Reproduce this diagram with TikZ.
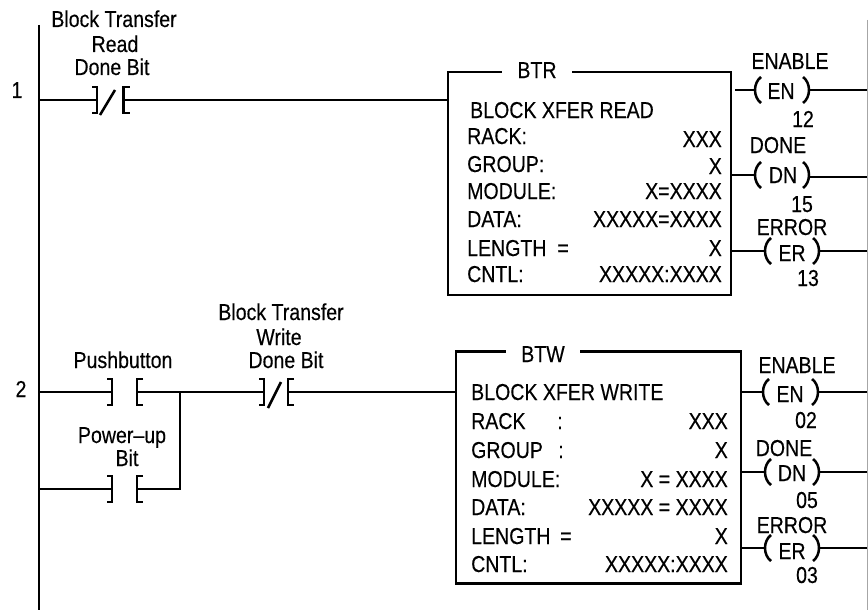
\documentclass[tikz,border=0pt]{standalone}
\usepackage{fontspec}
\setmainfont[FakeStretch=0.85,FakeBold=0.3]{Liberation Sans}
\newcommand{\contactno}[1]{%
  \draw[heavy] (#1l) ++(-5,-13) -- ++(5,0) -- ++(0,26) -- ++(-5,0);
  \draw[heavy] (#1r) ++(6,-13) -- ++(-6,0) -- ++(0,26) -- ++(6,0);
}
\newcommand{\coil}[4]{% name, left x, right x, y
  \coordinate (#1l) at (#2,#4);
  \coordinate (#1r) at (#3,#4);
  \draw[heavy] (#1l) ++(5,-13) .. controls +(-8,6) and +(-8,-6) .. ++(0,26);
  \draw[heavy] (#1r) ++(-5,-13) .. controls +(8,6) and +(8,-6) .. ++(0,26);
}
\tikzset{
  wire/.style={line width=2.1pt,line cap=butt,line join=miter,black},
  heavy/.style={wire,line width=2.5pt},
  txt/.style={anchor=base,inner sep=0pt,font=\fontsize{23}{23}\selectfont},
  txtl/.style={txt,anchor=base west},
  txtr/.style={txt,anchor=base east},
  fb/.style={wire,draw,rectangle,inner sep=0pt,minimum width=#1},
  ttl/.style={txt,fill=white,minimum width=#1}
}
\begin{document}
\begin{tikzpicture}[x=1pt,y=-1pt]
\useasboundingbox (0,0) rectangle (868,610);
\fill[white] (0,0) rectangle (868,610);
\coordinate (edgeT) at (867.5,20);
\coordinate (edgeB) at (867.5,610);
\draw[gray!70,line width=1pt] (edgeT) -- (edgeB);

% rail
\coordinate (railT) at (39,25);
\coordinate (railB) at (39,610);
\draw[wire] (railT) -- (railB);
\coordinate (r1) at (39,100);
\coordinate (r2) at (39,392);
\coordinate (r3) at (39,489);

% rung labels
\node[txt] (n1) at (17,98) {1};
\node[txt] (n2) at (21,397) {2};

% rung 1 contact
\node[txt] (a1) at (114,27) {Block Transfer};
\node[txt] (a2) at (115,52) {Read};
\node[txt] (a3) at (112,75) {Done Bit};
\coordinate (c1l) at (97,100);
\coordinate (c1r) at (123.5,100);
\coordinate (s1a) at (100,115);
\coordinate (s1b) at (115,90);
\contactno{c1}
\draw[heavy] (s1a) -- (s1b);

% BTR
\node[fb=283pt,minimum height=223pt] (btr) at (589.5,183.5) {};
\node[ttl=70pt] (btrt) at (537,78) {BTR};
\draw[wire] (r1) -- (c1l);
\draw[wire] (c1r) -- (btr.west |- c1r);

\node[txtl] (b0) at (470,118) {BLOCK XFER READ};
\node[txtl] (b1) at (467,144) {RACK:};
\node[txtl] (b2) at (467,172) {GROUP:};
\node[txtl] (b3) at (467,199) {MODULE:};
\node[txtl] (b4) at (467,227) {DATA:};
\node[txtl] (b5) at (467,256) {LENGTH};
\node[txt] (b5e) at (563,256) {=};
\node[txtl] (b6) at (467,282) {CNTL:};
\node[txtr] (v1) at (722,147) {XXX};
\node[txtr] (v2) at (722,174) {X};
\node[txtr] (v3) at (722,199) {X=XXXX};
\node[txtr] (v4) at (722,227) {XXXXX=XXXX};
\node[txtr] (v5) at (722,256) {X};
\node[txtr] (v6) at (722,282) {XXXXX:XXXX};

% BTR coils
\node[txt] (en1l) at (790,69) {ENABLE};
\node[txt] (en1) at (781,99) {EN};
\node[txt] (en1n) at (803,127) {12};
\coil{ce1}{756}{808}{90}
\coordinate (s1) at (735,90);
\coordinate (ee1) at (867,90);
\draw[wire] (s1) -- (ce1l);
\draw[wire] (ce1r) -- (ee1);

\node[txt] (dn1l) at (778,153) {DONE};
\node[txt] (dn1) at (783,183) {DN};
\node[txt] (dn1n) at (802,212) {15};
\coil{cd1}{756}{808}{175}
\coordinate (ed1) at (867,177);
\draw[wire] (btr.east |- cd1l) -- (cd1l);
\draw[wire] (cd1r |- ed1) -- (ed1);

\node[txt] (er1l) at (792,235) {ERROR};
\node[txt] (er1) at (792,261) {ER};
\node[txt] (er1n) at (808,286) {13};
\coil{cr1}{766}{818}{251}
\coordinate (er1e) at (867,251);
\draw[wire] (btr.east |- cr1l) -- (cr1l);
\draw[wire] (cr1r) -- (er1e);

% rung 2
\node[txt] (p1) at (123,368) {Pushbutton};
\node[txt] (p2) at (122,443) {Power–up};
\node[txt] (p3) at (127,466) {Bit};
\node[txt] (w1) at (281,320) {Block Transfer};
\node[txt] (w2) at (279,345) {Write};
\node[txt] (w3) at (286,368) {Done Bit};

\coordinate (c2l) at (112,392);
\coordinate (c2r) at (137,392);
\contactno{c2}
\coordinate (c3l) at (112,489);
\coordinate (c3r) at (137,489);
\contactno{c3}
\coordinate (c4l) at (264,392);
\coordinate (c4r) at (288,392);
\contactno{c4}
\coordinate (s4a) at (268,408);
\coordinate (s4b) at (281,382);
\draw[heavy] (s4a) -- (s4b);
\coordinate (j) at (180,392);

% BTW
\node[fb=285pt,minimum height=232pt] (btw) at (598.5,467.5) {};
\node[ttl=74pt] (btwt) at (543,362) {BTW};
\draw[wire] (r2) -- (c2l);
\draw[wire] (r3) -- (c3l);
\draw[wire] (c2r) -- (c4l);
\draw[wire] (c3r) -| (j);
\draw[wire] (c4r) -- (btw.west |- c4r);

\node[txtl] (d0) at (471,400) {BLOCK XFER WRITE};
\node[txtl] (d1) at (471,429) {RACK};
\node[txt] (d1c) at (560,429) {:};
\node[txtl] (d2) at (471,458) {GROUP};
\node[txt] (d2c) at (561,458) {:};
\node[txtl] (d3) at (471,487) {MODULE:};
\node[txtl] (d4) at (471,515) {DATA:};
\node[txtl] (d5) at (471,544) {LENGTH};
\node[txt] (d5e) at (566,544) {=};
\node[txtl] (d6) at (471,572) {CNTL:};
\node[txtr] (u1) at (728,429) {XXX};
\node[txtr] (u2) at (728,458) {X};
\node[txtr] (u3) at (728,487) {X = XXXX};
\node[txtr] (u4) at (728,515) {XXXXX = XXXX};
\node[txtr] (u5) at (728,544) {X};
\node[txtr] (u6) at (728,572) {XXXXX:XXXX};

% BTW coils
\node[txt] (en2l) at (797,373) {ENABLE};
\node[txt] (en2) at (790,402) {EN};
\node[txt] (en2n) at (806,428) {02};
\coil{ce2}{764}{817}{392}
\coordinate (ee2) at (867,392);
\draw[wire] (btw.east |- ce2l) -- (ce2l);
\draw[wire] (ce2r) -- (ee2);

\node[txt] (dn2l) at (784,456) {DONE};
\node[txt] (dn2) at (792,481) {DN};
\node[txt] (dn2n) at (807,508) {05};
\coil{cd2}{766}{818}{472}
\coordinate (ed2) at (867,472);
\draw[wire] (btw.east |- cd2l) -- (cd2l);
\draw[wire] (cd2r) -- (ed2);

\node[txt] (er2l) at (792,533) {ERROR};
\node[txt] (er2) at (792,559) {ER};
\node[txt] (er2n) at (807,583) {03};
\coil{cr2}{766}{818}{548}
\coordinate (er2e) at (867,548);
\draw[wire] (btw.east |- cr2l) -- (cr2l);
\draw[wire] (cr2r) -- (er2e);
\end{tikzpicture}
\end{document}
